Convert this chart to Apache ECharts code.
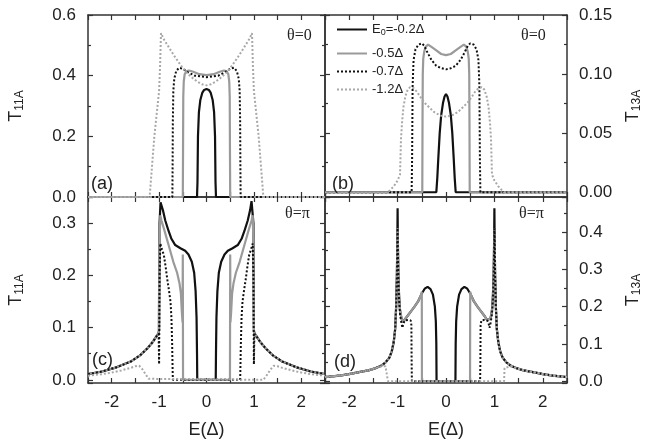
<!DOCTYPE html>
<html>
<head>
<meta charset="utf-8">
<script src="https://cdn.jsdelivr.net/npm/echarts@6/dist/echarts.min.js"></script>
<style>
html, body { margin: 0; padding: 0; background: #fff; }
#main { width: 645px; height: 447px; }
</style>
</head>
<body>
<div id="main"></div>
<script>
// series names (E0 values)
var names = ['E0=-0.2Δ', '-0.5Δ', '-0.7Δ', '-1.2Δ'];

// (a) theta=0, T11A
var a02 = [[-2.5,0],[-0.2,0],[-0.19,0.05],[-0.18,0.2],[-0.16,0.28],[-0.13,0.32],[-0.09,0.343],[-0.05,0.353],[0,0.356],[0.05,0.353],[0.09,0.343],[0.13,0.32],[0.16,0.28],[0.18,0.2],[0.19,0.05],[0.2,0],[2.5,0]];
var a05 = [[-2.5,0],[-0.5,0],[-0.495,0.15],[-0.49,0.33],[-0.48,0.38],[-0.46,0.405],[-0.43,0.414],[-0.37,0.417],[-0.28,0.413],[-0.15,0.405],[0,0.402],[0.15,0.405],[0.28,0.413],[0.37,0.417],[0.43,0.414],[0.46,0.405],[0.48,0.38],[0.49,0.33],[0.495,0.15],[0.5,0],[2.5,0]];
var a07 = [[-2.5,0],[-0.72,0],[-0.715,0.1],[-0.71,0.25],[-0.7,0.35],[-0.68,0.39],[-0.64,0.415],[-0.58,0.426],[-0.5,0.423],[-0.4,0.412],[-0.25,0.4],[0,0.395],[0.25,0.4],[0.4,0.412],[0.5,0.423],[0.58,0.426],[0.64,0.415],[0.68,0.39],[0.7,0.35],[0.71,0.25],[0.715,0.1],[0.72,0],[2.5,0]];
var a12 = [[-2.5,0],[-1.2,0],[-1.1,0.2],[-1.0,0.35],[-0.98,0.43],[-0.96,0.54],[-0.9,0.52],[-0.8,0.495],[-0.7,0.47],[-0.6,0.447],[-0.5,0.425],[-0.4,0.407],[-0.3,0.393],[-0.2,0.381],[-0.1,0.372],[0,0.368],[0.1,0.372],[0.2,0.381],[0.3,0.393],[0.4,0.407],[0.5,0.425],[0.6,0.447],[0.7,0.47],[0.8,0.495],[0.9,0.52],[0.96,0.54],[0.98,0.43],[1.0,0.35],[1.1,0.2],[1.2,0],[2.5,0]];

// (b) theta=0, T13A
var b02 = [[-2.5,0],[-0.2,0],[-0.18,0.012],[-0.16,0.028],[-0.13,0.05],[-0.1,0.065],[-0.06,0.076],[-0.03,0.081],[0,0.083],[0.03,0.081],[0.06,0.076],[0.1,0.065],[0.13,0.05],[0.16,0.028],[0.18,0.012],[0.2,0],[2.5,0]];
var b05 = [[-2.5,0],[-0.49,0],[-0.485,0.06],[-0.48,0.1],[-0.47,0.113],[-0.45,0.119],[-0.42,0.123],[-0.37,0.125],[-0.3,0.123],[-0.2,0.12],[-0.1,0.117],[0,0.116],[0.1,0.117],[0.2,0.12],[0.3,0.123],[0.37,0.125],[0.42,0.123],[0.45,0.119],[0.47,0.113],[0.48,0.1],[0.485,0.06],[0.49,0],[2.5,0]];
var b07 = [[-2.5,0],[-0.71,0],[-0.7,0.03],[-0.69,0.09],[-0.67,0.112],[-0.63,0.121],[-0.57,0.125],[-0.5,0.126],[-0.45,0.124],[-0.38,0.118],[-0.3,0.112],[-0.2,0.107],[-0.1,0.105],[0,0.104],[0.1,0.105],[0.2,0.107],[0.3,0.112],[0.38,0.118],[0.45,0.124],[0.5,0.126],[0.57,0.125],[0.63,0.121],[0.67,0.112],[0.69,0.09],[0.7,0.03],[0.71,0],[2.5,0]];
var b12 = [[-2.5,0],[-1.2,0],[-1.15,0.002],[-1.08,0.005],[-1.0,0.01],[-0.95,0.015],[-0.94,0.03],[-0.93,0.045],[-0.91,0.058],[-0.88,0.072],[-0.84,0.081],[-0.79,0.087],[-0.74,0.089],[-0.67,0.088],[-0.6,0.085],[-0.52,0.08],[-0.45,0.076],[-0.35,0.072],[-0.25,0.068],[-0.12,0.065],[0,0.064],[0.12,0.065],[0.25,0.068],[0.35,0.072],[0.45,0.076],[0.52,0.08],[0.6,0.085],[0.67,0.088],[0.74,0.089],[0.79,0.087],[0.84,0.081],[0.88,0.072],[0.91,0.058],[0.93,0.045],[0.94,0.03],[0.95,0.015],[1.0,0.01],[1.08,0.005],[1.15,0.002],[1.2,0],[2.5,0]];

// (c) theta=pi, T11A
var c02 = [[-2.5,0.011],[-2.2,0.016],[-1.9,0.024],[-1.6,0.035],[-1.4,0.047],[-1.25,0.06],[-1.13,0.073],[-1.05,0.084],[-1.01,0.09],[-1.0,0.095],[-0.99,0.3],[-0.97,0.34],[-0.95,0.342],[-0.92,0.325],[-0.87,0.305],[-0.8,0.285],[-0.74,0.27],[-0.66,0.258],[-0.55,0.252],[-0.45,0.247],[-0.38,0.24],[-0.31,0.226],[-0.26,0.205],[-0.23,0.17],[-0.21,0.12],[-0.2,0.05],[-0.195,0],[0.195,0],[0.2,0.05],[0.21,0.12],[0.23,0.17],[0.26,0.205],[0.31,0.226],[0.38,0.24],[0.45,0.247],[0.55,0.252],[0.66,0.258],[0.74,0.27],[0.8,0.285],[0.87,0.305],[0.92,0.325],[0.95,0.342],[0.97,0.34],[0.99,0.3],[1.0,0.095],[1.01,0.09],[1.05,0.084],[1.13,0.073],[1.25,0.06],[1.4,0.047],[1.6,0.035],[1.9,0.024],[2.2,0.016],[2.5,0.011]];
var c05 = [[-2.5,0.011],[-2.2,0.016],[-1.9,0.024],[-1.6,0.035],[-1.4,0.047],[-1.25,0.06],[-1.13,0.073],[-1.05,0.084],[-1.01,0.09],[-1.0,0.09],[-0.99,0.26],[-0.975,0.315],[-0.95,0.305],[-0.9,0.29],[-0.8,0.258],[-0.7,0.226],[-0.62,0.205],[-0.57,0.185],[-0.54,0.165],[-0.52,0.13],[-0.505,0.11],[-0.5,0.24],[-0.495,0],[0.495,0],[0.5,0.24],[0.505,0.11],[0.52,0.13],[0.54,0.165],[0.57,0.185],[0.62,0.205],[0.7,0.226],[0.8,0.258],[0.9,0.29],[0.95,0.305],[0.975,0.315],[0.99,0.26],[1.0,0.09],[1.01,0.09],[1.05,0.084],[1.13,0.073],[1.25,0.06],[1.4,0.047],[1.6,0.035],[1.9,0.024],[2.2,0.016],[2.5,0.011]];
var c07 = [[-2.5,0.011],[-2.2,0.016],[-1.9,0.024],[-1.6,0.035],[-1.4,0.047],[-1.25,0.06],[-1.13,0.073],[-1.05,0.084],[-1.01,0.088],[-1.0,0.03],[-0.99,0.2],[-0.975,0.261],[-0.94,0.25],[-0.9,0.239],[-0.86,0.215],[-0.83,0.194],[-0.79,0.17],[-0.76,0.15],[-0.74,0.12],[-0.725,0.07],[-0.715,0.02],[-0.71,0],[0.71,0],[0.715,0.02],[0.725,0.07],[0.74,0.12],[0.76,0.15],[0.79,0.17],[0.83,0.194],[0.86,0.215],[0.9,0.239],[0.94,0.25],[0.975,0.261],[0.99,0.2],[1.0,0.03],[1.01,0.088],[1.05,0.084],[1.13,0.073],[1.25,0.06],[1.4,0.047],[1.6,0.035],[1.9,0.024],[2.2,0.016],[2.5,0.011]];
var c12 = [[-2.5,0.008],[-2.2,0.011],[-2.0,0.014],[-1.8,0.018],[-1.6,0.023],[-1.5,0.026],[-1.42,0.027],[-1.35,0.02],[-1.28,0.01],[-1.22,0.002],[-1.2,0],[1.2,0],[1.22,0.002],[1.28,0.01],[1.35,0.02],[1.42,0.027],[1.5,0.026],[1.6,0.023],[1.8,0.018],[2.0,0.014],[2.2,0.011],[2.5,0.008]];

// (d) theta=pi, T13A
var d02 = [[-2.5,0.011],[-2.2,0.015],[-2.0,0.019],[-1.8,0.024],[-1.6,0.029],[-1.45,0.035],[-1.33,0.042],[-1.25,0.05],[-1.17,0.063],[-1.12,0.08],[-1.08,0.105],[-1.05,0.14],[-1.03,0.2],[-1.015,0.28],[-1.005,0.38],[-1.0,0.464],[-0.995,0.38],[-0.985,0.29],[-0.97,0.23],[-0.95,0.19],[-0.92,0.168],[-0.89,0.159],[-0.85,0.164],[-0.8,0.174],[-0.72,0.188],[-0.65,0.2],[-0.58,0.213],[-0.5,0.235],[-0.44,0.248],[-0.38,0.253],[-0.32,0.247],[-0.27,0.232],[-0.23,0.2],[-0.21,0.16],[-0.2,0.1],[-0.195,0],[0.195,0],[0.2,0.1],[0.21,0.16],[0.23,0.2],[0.27,0.232],[0.32,0.247],[0.38,0.253],[0.44,0.248],[0.5,0.235],[0.58,0.213],[0.65,0.2],[0.72,0.188],[0.8,0.174],[0.85,0.164],[0.89,0.159],[0.92,0.168],[0.95,0.19],[0.97,0.23],[0.985,0.29],[0.995,0.38],[1.0,0.464],[1.005,0.38],[1.015,0.28],[1.03,0.2],[1.05,0.14],[1.08,0.105],[1.12,0.08],[1.17,0.063],[1.25,0.05],[1.33,0.042],[1.45,0.035],[1.6,0.029],[1.8,0.024],[2.0,0.019],[2.2,0.015],[2.5,0.011]];
var d05 = [[-2.5,0.011],[-2.2,0.015],[-2.0,0.019],[-1.8,0.024],[-1.6,0.029],[-1.45,0.035],[-1.33,0.042],[-1.25,0.05],[-1.17,0.063],[-1.12,0.08],[-1.08,0.105],[-1.05,0.14],[-1.03,0.2],[-1.015,0.28],[-1.005,0.38],[-1.0,0.41],[-0.995,0.37],[-0.985,0.29],[-0.97,0.23],[-0.95,0.19],[-0.92,0.168],[-0.89,0.159],[-0.85,0.164],[-0.8,0.174],[-0.72,0.188],[-0.65,0.2],[-0.58,0.213],[-0.52,0.23],[-0.5,0.24],[-0.497,0],[0.497,0],[0.5,0.24],[0.52,0.23],[0.58,0.213],[0.65,0.2],[0.72,0.188],[0.8,0.174],[0.85,0.164],[0.89,0.159],[0.92,0.168],[0.95,0.19],[0.97,0.23],[0.985,0.29],[0.995,0.37],[1.0,0.41],[1.005,0.38],[1.015,0.28],[1.03,0.2],[1.05,0.14],[1.08,0.105],[1.12,0.08],[1.17,0.063],[1.25,0.05],[1.33,0.042],[1.45,0.035],[1.6,0.029],[1.8,0.024],[2.0,0.019],[2.2,0.015],[2.5,0.011]];
var d07 = [[-2.5,0.011],[-2.2,0.015],[-2.0,0.019],[-1.8,0.024],[-1.6,0.029],[-1.45,0.035],[-1.33,0.042],[-1.25,0.05],[-1.17,0.063],[-1.12,0.08],[-1.08,0.105],[-1.05,0.14],[-1.03,0.2],[-1.015,0.28],[-1.005,0.38],[-1.0,0.41],[-0.995,0.36],[-0.985,0.28],[-0.97,0.22],[-0.95,0.18],[-0.92,0.155],[-0.9,0.143],[-0.88,0.155],[-0.85,0.163],[-0.78,0.164],[-0.73,0.163],[-0.715,0.15],[-0.71,0.05],[-0.705,0],[0.705,0],[0.71,0.05],[0.715,0.15],[0.73,0.163],[0.78,0.164],[0.85,0.163],[0.88,0.155],[0.9,0.143],[0.92,0.155],[0.95,0.18],[0.97,0.22],[0.985,0.28],[0.995,0.36],[1.0,0.41],[1.005,0.38],[1.015,0.28],[1.03,0.2],[1.05,0.14],[1.08,0.105],[1.12,0.08],[1.17,0.063],[1.25,0.05],[1.33,0.042],[1.45,0.035],[1.6,0.029],[1.8,0.024],[2.0,0.019],[2.2,0.015],[2.5,0.011]];
var d12 = [[-2.5,0.011],[-2.2,0.015],[-2.0,0.019],[-1.8,0.024],[-1.6,0.029],[-1.45,0.035],[-1.33,0.04],[-1.25,0.04],[-1.21,0.035],[-1.2,0],[1.2,0],[1.21,0.035],[1.25,0.04],[1.33,0.04],[1.45,0.035],[1.6,0.029],[1.8,0.024],[2.0,0.019],[2.2,0.015],[2.5,0.011]];

var FONT = 'Liberation Sans';
var SERIF = 'Liberation Serif';
var lineStyles = [
  {color: '#111', width: 2.2, type: 'solid'},
  {color: '#9a9a9a', width: 2.2, type: 'solid'},
  {color: '#111', width: 2, type: 'dotted'},
  {color: '#a8a8a8', width: 2, type: 'dotted'}
];

var axisLine = {show: true, onZero: false, lineStyle: {color: '#333', width: 1.5}};
var tickStyle = {color: '#333', width: 1.2};
var nameRich = {
  t: {fontSize: 18, fontFamily: FONT, color: '#222'},
  s: {fontSize: 12, fontFamily: FONT, color: '#222', verticalAlign: 'bottom', padding: [8, 0, 0, 0]}
};

function xAx (grid, pos, labels, name) {
  return {
    type: 'value', gridIndex: grid, position: pos, min: -2.5, max: 2.5, interval: 0.5,
    axisLine: axisLine,
    axisTick: {show: true, inside: true, length: 5, lineStyle: tickStyle},
    axisLabel: {
      show: labels, margin: 11, fontSize: 17, color: '#222', fontFamily: FONT,
      formatter: function (v) {
        return (Math.abs(v - Math.round(v)) < 1e-6 && Math.abs(v) < 2.4) ? String(Math.round(v)) : '';
      }
    },
    splitLine: {show: false},
    name: name || '', nameLocation: 'middle', nameGap: 38,
    nameTextStyle: {fontSize: 18, fontFamily: FONT, color: '#222'}
  };
}

function yAx (grid, pos, cfg, labels, name, gap) {
  var ax = {
    type: 'value', gridIndex: grid, position: pos, min: cfg.min, max: cfg.max,
    axisLine: axisLine,
    axisTick: {show: true, inside: true, length: 5, lineStyle: tickStyle},
    minorTick: {show: true, splitNumber: 2, length: 3, lineStyle: tickStyle},
    axisLabel: {
      show: labels, margin: 12, fontSize: 17, color: '#222', fontFamily: FONT,
      showMinLabel: cfg.showMin, showMaxLabel: cfg.showMax,
      formatter: function (v) { return Math.abs(v).toFixed(cfg.dec); }
    },
    splitLine: {show: false},
    minorSplitLine: {show: false},
    name: name || '', nameLocation: 'middle', nameGap: gap || 0, nameRotate: 90,
    nameTextStyle: {rich: nameRich}
  };
  if (cfg.interval) ax.interval = cfg.interval; else ax.splitNumber = cfg.split;
  return ax;
}

var yA = {min: 0, max: 0.6, interval: 0.2, dec: 1, showMin: true, showMax: true};
var yB = {min: -0.004, max: 0.15, split: 3, dec: 2, showMin: false, showMax: true};
var yC = {min: -0.006, max: 0.35, split: 4, dec: 1, showMin: false, showMax: false};
var yD = {min: -0.005, max: 0.494, split: 5, dec: 1, showMin: false, showMax: false};

var panels = [
  {sets: [a02, a05, a07, a12], yIdx: 0},
  {sets: [b02, b05, b07, b12], yIdx: 3},
  {sets: [c02, c05, c07, c12], yIdx: 4},
  {sets: [d02, d05, d07, d12], yIdx: 7}
];

var series = [];
panels.forEach(function (p, i) {
  p.sets.forEach(function (d, k) {
    series.push({
      name: names[k], type: 'line', xAxisIndex: 2 * i, yAxisIndex: p.yIdx,
      data: d, symbol: 'none', showSymbol: false, clip: true,
      lineStyle: lineStyles[k], itemStyle: {color: lineStyles[k].color},
      emphasis: {disabled: true}
    });
  });
});

function note (text, left, top, size, family) {
  return {text: text, left: left, top: top, padding: 0,
    textStyle: {fontSize: size, fontWeight: 'normal', fontFamily: family, color: '#222'}};
}

var legendText = {
  fontSize: 13, fontFamily: FONT, color: '#222',
  rich: {n: {fontSize: 13, fontFamily: FONT, color: '#222'}, s: {fontSize: 9, fontFamily: FONT, color: '#222', verticalAlign: 'bottom', padding: [6, 0, 0, 0]}}
};

var option = {
  animation: false,
  backgroundColor: '#fff',
  grid: [
    {left: 88, top: 15, width: 237, height: 182},
    {left: 325, top: 15, width: 242, height: 182},
    {left: 88, top: 197, width: 237, height: 186},
    {left: 325, top: 197, width: 242, height: 186}
  ],
  xAxis: [
    xAx(0, 'bottom', false), xAx(0, 'top', false),
    xAx(1, 'bottom', false), xAx(1, 'top', false),
    xAx(2, 'bottom', true, 'E(Δ)'), xAx(2, 'top', false),
    xAx(3, 'bottom', true, 'E(Δ)'), xAx(3, 'top', false)
  ],
  yAxis: [
    yAx(0, 'left', yA, true, '{t|T}{s|11A}', 62), yAx(0, 'right', yA, false),
    yAx(1, 'left', yB, false), yAx(1, 'right', yB, true, '{t|T}{s|13A}', 56),
    yAx(2, 'left', yC, true, '{t|T}{s|11A}', 62), yAx(2, 'right', yC, false),
    yAx(3, 'left', yD, false), yAx(3, 'right', yD, true, '{t|T}{s|13A}', 56)
  ],
  legend: [
    {data: [names[0]], left: 331, top: 18, orient: 'vertical', itemWidth: 30, itemHeight: 10,
      itemStyle: {opacity: 0},
      formatter: function () { return '{n|E}{s|0}{n|=-0.2Δ}'; }, textStyle: legendText},
    {data: names.slice(1), left: 331, top: 42, orient: 'vertical', itemWidth: 30, itemHeight: 12, itemGap: 5,
      itemStyle: {opacity: 0}, textStyle: legendText}
  ],
  title: [
    note('θ=0', 287, 28, 16, SERIF),
    note('θ=0', 521, 28, 16, SERIF),
    note('θ=π', 285, 206, 16, SERIF),
    note('θ=π', 519, 206, 16, SERIF),
    note('(a)', 91, 175, 18, FONT),
    note('(b)', 332, 175, 18, FONT),
    note('(c)', 92, 351, 18, FONT),
    note('(d)', 334, 353, 18, FONT)
  ],
  series: series
};

var chart = echarts.init(document.getElementById('main'), null, {renderer: 'canvas'});
chart.setOption(option);
</script>
</body>
</html>
